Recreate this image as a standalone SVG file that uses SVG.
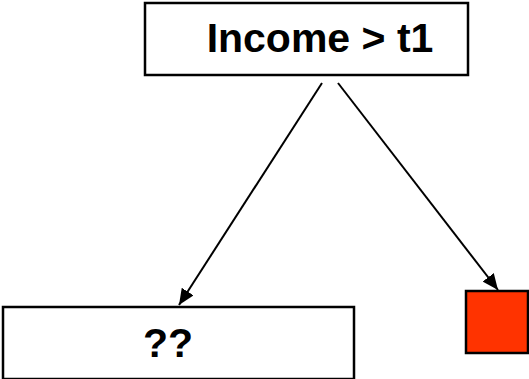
<svg xmlns="http://www.w3.org/2000/svg" width="529" height="379" viewBox="0 0 529 379">
<style>
.box{fill:#fff;stroke:#000;stroke-width:2.5}
.lbl{font-family:"Liberation Sans",Arial,sans-serif;font-weight:bold;fill:#000;text-anchor:middle}
.edge{stroke:#000;stroke-width:2;fill:none;marker-end:url(#ah)}
</style>
<defs>
<marker id="ah" markerWidth="16" markerHeight="14" refX="16" refY="7" orient="auto" markerUnits="userSpaceOnUse" viewBox="0 0 16 14">
<path d="M0,0 L16,7 L0,14 z" fill="#000"/>
</marker>
</defs>
<rect width="529" height="379" fill="#fff"/>
<g id="connectors">
<line class="edge" x1="322" y1="83" x2="179" y2="305"/>
<line class="edge" x1="338" y1="83" x2="498" y2="290"/>
</g>
<g id="node-income">
<rect class="box" x="145" y="3" width="323" height="72"/>
<text class="lbl" x="320" y="52" font-size="41">Income &gt; t1</text>
</g>
<g id="node-unknown">
<rect class="box" x="3" y="307" width="351" height="72"/>
<text class="lbl" x="168" y="357" font-size="41">??</text>
</g>
<g id="node-leaf">
<rect x="466" y="291" width="62" height="62" fill="#FF3300" stroke="#000" stroke-width="2.5"/>
</g>
</svg>
